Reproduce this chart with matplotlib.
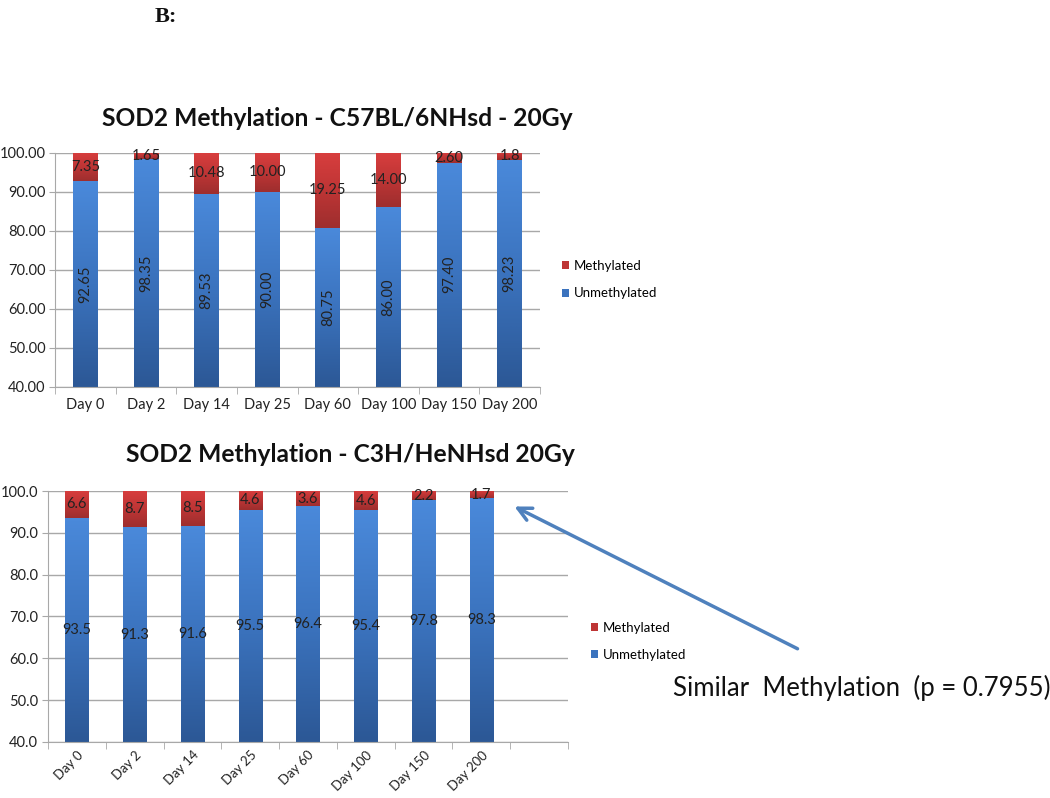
import matplotlib
matplotlib.use('Agg')
import matplotlib.pyplot as plt
import numpy as np
from matplotlib.colors import LinearSegmentedColormap

plt.rcParams['font.family'] = ['Lato', 'DejaVu Sans']

# data
days = ['Day 0', 'Day 2', 'Day 14', 'Day 25', 'Day 60', 'Day 100', 'Day 150', 'Day 200']

c57_unmeth = [92.65, 98.35, 89.53, 90.00, 80.75, 86.00, 97.40, 98.23]
c57_meth = [7.35, 1.65, 10.48, 10.00, 19.25, 14.00, 2.60, 1.8]
c57_unmeth_lbl = ['92.65', '98.35', '89.53', '90.00', '80.75', '86.00', '97.40', '98.23']
c57_meth_lbl = ['7.35', '1.65', '10.48', '10.00', '19.25', '14.00', '2.60', '1.8']

c3h_unmeth = [93.5, 91.3, 91.6, 95.5, 96.4, 95.4, 97.8, 98.3]
c3h_meth = [6.6, 8.7, 8.5, 4.6, 3.6, 4.6, 2.2, 1.7]

BLUE_CM = LinearSegmentedColormap.from_list('b', ['#2C5896', '#3B73BE', '#4A89DA'])
RED_CM = LinearSegmentedColormap.from_list('r', ['#9E2E2E', '#BE3535', '#D83E3E'])
GRID = '#A8A8A8'
TXT = '#222222'


def shade(ax, bars, cmap):
    grad = np.linspace(0, 1, 64).reshape(-1, 1)
    for p in bars:
        x, y, w, h = p.get_x(), p.get_y(), p.get_width(), p.get_height()
        im = ax.imshow(grad, extent=[x, x + w, y, y + h], origin='lower', cmap=cmap,
                       aspect='auto', zorder=2.5, interpolation='bilinear')
        im.set_clip_path(p)


def style_axes(ax, fmt, nslots):
    ax.set_xlim(-0.5, nslots - 0.5)
    ax.set_ylim(40, 100)
    ax.set_yticks(np.arange(40, 101, 10))
    ax.set_yticklabels([fmt % v for v in np.arange(40, 101, 10)], fontsize=10.5, color=TXT)
    ax.yaxis.grid(True, color=GRID, lw=1.0)
    ax.set_axisbelow(True)
    for s in ['top', 'right']:
        ax.spines[s].set_visible(False)
    ax.spines['left'].set_color(GRID)
    ax.spines['bottom'].set_color(GRID)
    ax.set_xticks(np.arange(-0.5, nslots, 1.0), minor=True)
    ax.tick_params(axis='x', which='minor', length=5, color=GRID, direction='out')
    ax.tick_params(axis='x', which='major', length=0, pad=8)
    ax.tick_params(axis='y', length=4, color=GRID, pad=3)


fig = plt.figure(figsize=(10.5, 7.98), dpi=100)

# ---- top chart
ax1 = fig.add_axes([0.0524, 0.5154, 0.4619, 0.2932])
x1 = np.arange(len(days))
b_un = ax1.bar(x1, np.array(c57_unmeth) - 40, bottom=40, width=0.41, color='#3B73BE', zorder=2)
b_me = ax1.bar(x1, c57_meth, bottom=c57_unmeth, width=0.41, color='#BE3535', zorder=2)
shade(ax1, b_un, BLUE_CM)
shade(ax1, b_me, RED_CM)
style_axes(ax1, '%.2f', len(days))
ax1.set_xticks(x1)
ax1.set_xticklabels(days, fontsize=10.5, color=TXT)
for i in range(len(days)):
    ax1.text(x1[i], (40 + c57_unmeth[i]) / 2, c57_unmeth_lbl[i], rotation=90,
             ha='center', va='center', fontsize=10.5, color=TXT, zorder=5)
    ax1.text(x1[i], c57_unmeth[i] + c57_meth[i] / 2, c57_meth_lbl[i],
             ha='center', va='center', fontsize=10.5, color=TXT, zorder=5)
ax1.legend([b_me, b_un], ['Methylated', 'Unmethylated'], loc='center left',
           bbox_to_anchor=(0.535, 0.6495), bbox_transform=fig.transFigure,
           frameon=False, fontsize=9.5, handlelength=0.55, handleheight=0.55,
           handletextpad=0.35, labelspacing=1.15, borderaxespad=0, borderpad=0)

# ---- bottom chart
ax2 = fig.add_axes([0.0457, 0.0702, 0.4952, 0.3145])
x2 = np.arange(len(days))
c_un = ax2.bar(x2, np.array(c3h_unmeth) - 40, bottom=40, width=0.40, color='#3B73BE', zorder=2)
c_me = ax2.bar(x2, c3h_meth, bottom=c3h_unmeth, width=0.40, color='#BE3535', zorder=2)
shade(ax2, c_un, BLUE_CM)
shade(ax2, c_me, RED_CM)
style_axes(ax2, '%.1f', len(days) + 1)
ax2.set_xticks(x2)
ax2.set_xticklabels(days, fontsize=9.5, color=TXT, rotation=45, ha='right',
                    rotation_mode='anchor')
ax2.tick_params(axis='x', which='major', pad=5)
for i in range(len(days)):
    ax2.text(x2[i], (40 + c3h_unmeth[i]) / 2, '%.1f' % c3h_unmeth[i],
             ha='center', va='center', fontsize=10.5, color=TXT, zorder=5)
    ax2.text(x2[i], c3h_unmeth[i] + c3h_meth[i] / 2, '%.1f' % c3h_meth[i],
             ha='center', va='center', fontsize=10.5, color=TXT, zorder=5)
ax2.legend([c_me, c_un], ['Methylated', 'Unmethylated'], loc='center left',
           bbox_to_anchor=(0.563, 0.1965), bbox_transform=fig.transFigure,
           frameon=False, fontsize=9.5, handlelength=0.55, handleheight=0.55,
           handletextpad=0.35, labelspacing=1.15, borderaxespad=0, borderpad=0)

# arrow and note
ax2.annotate('', xy=(7.53, 96.6), xycoords='data',
             xytext=(800 / 1050, 1 - 650 / 798), textcoords='figure fraction',
             arrowprops=dict(arrowstyle='->', color='#4F81BD', lw=2.5, mutation_scale=24),
             annotation_clip=False)
fig.text(673 / 1050, 1 - 688 / 798, 'Similar  Methylation  (p = 0.7955)',
         ha='left', va='center', fontsize=18.5, color='#111111')

# titles
fig.text(337 / 1050, 1 - 118 / 798, 'SOD2 Methylation - C57BL/6NHsd - 20Gy',
         ha='center', va='center', fontsize=17.7, fontweight='bold', color='#111111')
fig.text(350 / 1050, 1 - 455 / 798, 'SOD2 Methylation - C3H/HeNHsd 20Gy',
         ha='center', va='center', fontsize=17.7, fontweight='bold', color='#111111')
fig.text(155 / 1050, 1 - 17 / 798, 'B:', ha='left', va='center', fontsize=16,
         fontweight='bold', family='Liberation Serif', color='#111111')

fig.savefig('out.png', dpi=100, facecolor='white')
